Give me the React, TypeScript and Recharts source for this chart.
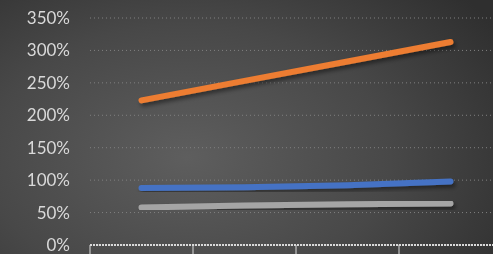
import { LineChart, Line, XAxis, YAxis, CartesianGrid } from 'recharts';

// category labels are cut off in the reference, only the slots matter
const categories = ['1', '2', '3', '4'];
const orangeValues = [223, 253, 283, 313];
const blueValues = [88, 89, 92, 98];
const greyValues = [58, 61, 63, 64];
const yTicks = [0, 50, 100, 150, 200, 250, 300, 350];
const xBoundaries = [0, 1, 2, 3, 4];

const data = categories.map((name, i) => ({
  name,
  x: i + 0.5,
  orange: orangeValues[i],
  blue: blueValues[i],
  grey: greyValues[i],
}));

const EmptyTick = () => <g />;

export default function App() {
  return (
    <div
      style={{
        position: 'fixed',
        left: 0,
        top: 0,
        width: 493,
        height: 254,
        overflow: 'hidden',
        background:
          'radial-gradient(ellipse 75% 95% at 38% 62%, #5e5e5e 0%, #484848 55%, #2f2f2f 100%)',
      }}
    >
      <LineChart
        width={510}
        height={254}
        data={data}
        margin={{ top: 18, right: 8, bottom: 0, left: 0 }}
      >
        <defs>
          <filter id="lineShadow" x="-10%" y="-50%" width="120%" height="200%">
            <feDropShadow dx="2" dy="3" stdDeviation="2" floodColor="#000" floodOpacity="0.45" />
          </filter>
        </defs>
        <CartesianGrid vertical={false} stroke="#808080" strokeDasharray="1 3" />
        <XAxis
          dataKey="x"
          type="number"
          domain={[0, 4]}
          ticks={xBoundaries}
          interval={0}
          tick={EmptyTick}
          height={9}
          tickSize={9}
          axisLine={{ stroke: '#d9d9d9', strokeWidth: 2, strokeDasharray: '2 1' }}
          tickLine={{ stroke: '#d9d9d9' }}
        />
        <YAxis
          type="number"
          domain={[0, 350]}
          ticks={yTicks}
          interval={0}
          width={90}
          axisLine={false}
          tickLine={false}
          tickSize={0}
          tickMargin={20}
          tickFormatter={(v: number) => `${v}%`}
          tick={{ fill: '#d9d9d9', fontSize: 17, fontFamily: 'Lato, sans-serif' }}
        />
        <Line
          dataKey="grey"
          stroke="#a5a5a5"
          strokeWidth={6}
          strokeLinecap="round"
          dot={false}
          filter="url(#lineShadow)"
          isAnimationActive={false}
        />
        <Line
          dataKey="blue"
          stroke="#4472c4"
          strokeWidth={6}
          strokeLinecap="round"
          dot={false}
          filter="url(#lineShadow)"
          isAnimationActive={false}
        />
        <Line
          dataKey="orange"
          stroke="#ed7d31"
          strokeWidth={6}
          strokeLinecap="round"
          dot={false}
          filter="url(#lineShadow)"
          isAnimationActive={false}
        />
      </LineChart>
    </div>
  );
}
